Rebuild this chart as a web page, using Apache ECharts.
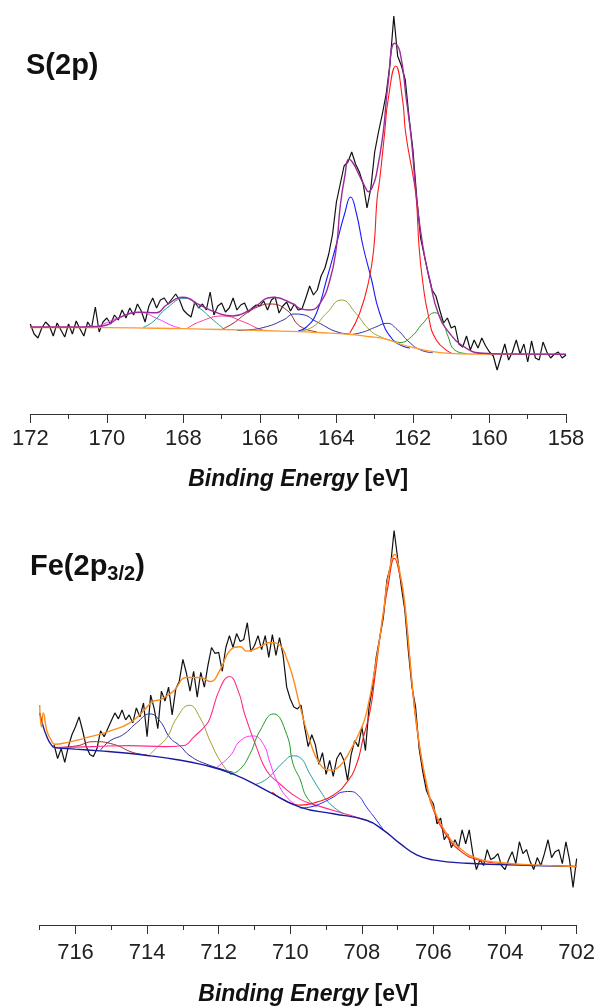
<!DOCTYPE html>
<html>
<head>
<meta charset="utf-8">
<script src="https://cdn.jsdelivr.net/npm/echarts@6.0.0/dist/echarts.min.js"></script>
<style>
  html, body { margin: 0; padding: 0; background: #fff; }
  #chart { width: 598px; height: 1007px; }
</style>
</head>
<body>
<div id="chart"></div>
<script>
// S(2p) region, [binding energy eV, intensity a.u.]
const sRaw = [
  [172.0,90],[171.9,80],[171.8,76],[171.7,86],[171.6,92],[171.5,88],[171.4,78],[171.3,91],[171.2,84],[171.1,77],
  [171.0,90],[170.9,80],[170.8,93],[170.7,85],[170.6,78],[170.5,92],[170.4,86],[170.3,107],[170.2,82],[170.1,92],
  [170.0,96],[169.9,90],[169.8,99],[169.7,94],[169.6,104],[169.5,96],[169.4,106],[169.3,99],[169.2,110],[169.1,103],
  [169.0,92],[168.9,108],[168.8,116],[168.7,106],[168.6,114],[168.5,116],[168.4,110],[168.3,115],[168.2,120],[168.1,114],
  [168.0,104],[167.9,100],[167.8,97],[167.7,112],[167.6,106],[167.5,110],[167.4,104],[167.3,122],[167.2,99],[167.1,108],
  [167.0,111],[166.9,102],[166.8,106],[166.7,116],[166.6,104],[166.5,109],[166.4,111],[166.3,102],[166.2,106],[166.1,109],
  [166.0,108],[165.9,113],[165.8,104],[165.7,114],[165.6,117],[165.5,101],[165.4,108],[165.3,112],[165.2,103],[165.1,110],
  [165.0,104],[164.9,105],[164.8,116],[164.7,128],[164.6,119],[164.5,124],[164.4,138],[164.3,146],[164.2,160],[164.1,180],
  [164.0,212],[163.9,230],[163.8,248],[163.7,252],[163.6,262],[163.5,250],[163.4,242],[163.3,230],[163.2,206],[163.1,226],
  [163.0,262],[162.9,282],[162.8,300],[162.7,320],[162.6,350],[162.5,398],[162.4,358],[162.3,348],[162.2,334],[162.1,296],
  [162.0,264],[161.9,216],[161.8,176],[161.7,158],[161.6,140],[161.5,124],[161.4,118],[161.3,104],[161.2,91],[161.1,96],
  [161.0,86],[160.9,88],[160.8,70],[160.7,67],[160.6,78],[160.5,64],[160.4,74],[160.3,66],[160.2,76],[160.1,68],
  [160.0,62],[159.9,58],[159.8,44],[159.7,57],[159.6,70],[159.5,54],[159.4,62],[159.3,74],[159.2,60],[159.1,70],
  [159.0,52],[158.9,73],[158.8,56],[158.7,54],[158.6,72],[158.5,62],[158.4,56],[158.3,60],[158.2,62],[158.1,56],[158.0,59]
];
const sEnvelope = [
  [172.0,87],[171.0,87],[170.3,87.5],[170.0,89],[169.66,96.7],[169.14,101.7],[168.7,101.3],[168.44,109],[168.0,116.7],
  [167.57,109],[167.13,101.3],[166.7,98],[166.26,104],[165.65,116.7],[165.13,110],[164.96,105.7],[164.7,104],[164.43,110.7],
  [164.17,134],[164.0,167],[163.9,208],[163.78,238],[163.67,254.7],[163.55,250],[163.43,240.7],[163.21,224],[163.17,222.3],
  [163.05,228],[162.95,240.7],[162.78,280.7],[162.65,330.7],[162.48,370.7],[162.34,362.3],[162.17,314],[162.04,274],
  [161.91,217.3],[161.74,167.3],[161.56,134],[161.34,100.7],[161.04,80.7],[160.6,65.7],[160.17,60.7],[159.5,60],[158.0,59.7]
];
const sBaseline = [
  [172.0,86.5],[170.0,86.3],[168.0,85.3],[167.0,84.5],[166.0,83.5],[164.96,82.3],[164.5,81.5],[163.65,79.7],[163.2,77.5],
  [162.78,75.7],[162.55,73],[162.34,70],[162.0,66.5],[161.47,62.3],[161.04,60.7],[160.44,60],[158.0,59.7]
];
const sRed = [
  [163.65,81],[163.39,101],[163.15,134],[163.02,167],[162.94,214],[162.87,234],[162.74,281],[162.65,314],[162.45,348],
  [162.27,314],[162.19,281],[161.98,234],[161.91,214],[161.84,167],[161.75,134],[161.61,101],[161.39,74],[161.0,61]
];
const sBlue = [
  [165.0,83],[164.78,87],[164.52,101],[164.26,134],[164.02,167],[163.78,201],[163.63,217],[163.48,201],[163.3,167],
  [163.08,134],[162.87,101],[162.52,74],[162.08,66]
];
const sGreen = [[162.5,73],[162.34,71.5],[162.04,77.3],[161.74,90.7],[161.43,101.3],[161.21,90.7],[161.08,77.3],[160.91,64],[160.6,60.5]];
const sNavy = [[163.6,79.5],[163.3,82],[163.0,86.5],[162.68,90.7],[162.4,84],[162.1,72],[161.8,64],[161.48,61.3]];
const sOlive = [[165.0,82.3],[164.61,87.3],[164.26,100.7],[163.87,114],[163.49,100.7],[163.13,84],[162.78,76],[162.52,73]];
const sNavy2 = [[166.6,83.6],[166.35,84],[165.83,87.3],[165.39,94],[165.1,100],[164.9,99.5],[164.52,92.3],[163.91,81.3],[163.65,80]];
const sDarkRed = [[167.0,84.5],[166.7,90.7],[166.35,100.7],[166.0,108],[165.74,110],[165.3,104],[164.96,88],[164.52,82.3]];
const sPink = [[167.9,85.5],[167.57,92.3],[166.97,98],[166.44,92.3],[166.0,84.7],[165.83,83.5]];
const sTeal = [[169.05,86.7],[168.79,92.3],[168.44,105.7],[167.96,115.7],[167.57,105.7],[167.22,94],[166.96,85.7]];
const sMagenta = [[170.3,87],[170.09,90],[169.66,96.7],[169.14,101.7],[168.7,95.7],[168.27,88],[168.09,86.3]];

// Fe(2p3/2) region
const feRaw = [
  [716.6,182],[716.5,168],[716.4,178],[716.3,164],[716.2,180],[716.1,192],[716.0,200],[715.9,210],[715.8,196],[715.7,180],
  [715.6,172],[715.5,170],[715.4,178],[715.3,196],[715.2,190],[715.1,198],[715.0,206],[714.9,214],[714.8,208],[714.7,217],
  [714.6,207],[714.5,212],[714.4,204],[714.3,219],[714.2,210],[714.1,224],[714.0,190],[713.9,232],[713.8,218],[713.7,198],
  [713.6,236],[713.5,226],[713.4,240],[713.3,212],[713.2,238],[713.1,246],[713.0,268],[712.9,254],[712.8,236],[712.7,256],
  [712.6,230],[712.5,255],[712.4,240],[712.3,262],[712.2,280],[712.1,274],[712.0,275],[711.9,256],[711.8,280],[711.7,292],
  [711.6,280],[711.5,294],[711.4,286],[711.3,288],[711.2,305],[711.1,276],[711.0,282],[710.9,292],[710.8,278],[710.7,292],
  [710.6,270],[710.5,293],[710.4,272],[710.3,290],[710.2,272],[710.1,240],[710.0,228],[709.9,220],[709.8,218],[709.7,222],
  [709.6,200],[709.5,180],[709.4,192],[709.3,182],[709.2,162],[709.1,174],[709.0,152],[708.9,166],[708.8,150],[708.7,168],
  [708.6,174],[708.5,166],[708.4,146],[708.3,172],[708.2,186],[708.1,180],[708.0,200],[707.9,176],[707.8,220],[707.7,240],
  [707.6,270],[707.5,290],[707.4,310],[707.3,348],[707.2,362],[707.1,398],[707.0,370],[706.9,342],[706.8,318],[706.7,276],
  [706.6,240],[706.5,220],[706.4,178],[706.3,155],[706.2,136],[706.1,128],[706.0,122],[705.9,102],[705.8,108],[705.7,86],
  [705.6,92],[705.5,78],[705.4,86],[705.3,78],[705.2,96],[705.1,82],[705.0,96],[704.9,72],[704.8,56],[704.7,66],
  [704.6,60],[704.5,76],[704.4,66],[704.3,68],[704.2,72],[704.1,60],[704.0,56],[703.9,66],[703.8,74],[703.7,62],
  [703.6,84],[703.5,72],[703.4,76],[703.3,64],[703.2,56],[703.1,68],[703.0,60],[702.9,72],[702.8,86],[702.7,68],
  [702.6,74],[702.5,76],[702.4,62],[702.3,84],[702.2,66],[702.1,38],[702.0,67]
];
const feEnvelope = [
  [717.0,222],[716.95,200],[716.9,214],[716.8,196],[716.7,188],[716.57,182.3],[716.25,184],[715.69,189],[715.04,195.7],
  [714.48,204],[714.11,215.7],[713.83,225.7],[713.64,227.3],[713.27,235.7],[712.89,249.7],[712.52,249.7],[712.24,245.7],
  [711.96,257.3],[711.68,277.3],[711.4,280.7],[711.22,276.3],[710.84,280.7],[710.57,285],[710.29,282.3],[710.1,269],
  [709.92,249],[709.73,221],[709.45,185.7],[709.17,162.3],[708.89,156.3],[708.61,160.7],[708.33,175.7],[708.05,195.7],
  [707.87,214],[707.59,269],[707.4,315.7],[707.26,352.3],[707.08,374],[706.94,355.7],[706.84,335.7],[706.75,305.7],
  [706.66,269],[706.52,216],[706.38,179],[706.19,142.3],[706.01,119],[705.63,92.3],[705.26,77.3],[704.79,67.3],
  [704.14,63],[703.21,60.7],[702.0,59]
];
const feBaseline = [
  [717.0,214],[716.9,200],[716.8,190],[716.7,183],[716.57,179],[716.0,177.5],[715.32,175.7],[714.6,173.5],[713.92,170.7],
  [713.2,167],[712.52,162.3],[711.59,152.3],[710.66,135.7],[709.73,119],[708.8,112.3],[707.87,105.7],[707.4,95.7],
  [706.94,82.3],[706.47,70.7],[706.01,65.7],[705.07,62.3],[703.21,60],[702.0,59]
];
const feRed = [
  [710.5,134],[709.73,121],[709.26,124],[708.8,131],[708.42,144],[708.15,162],[707.96,189],[707.77,216],[707.63,252],
  [707.45,302],[707.26,344],[707.09,370],[706.94,353],[706.84,333],[706.75,304],[706.66,268],[706.52,215],[706.38,178],
  [706.19,140],[706.01,117],[705.63,90],[705.26,75],[704.79,66],[704.14,62],[703.5,60.5]
];
const feBlue = [[709.73,118],[709.45,119],[709.17,122.3],[708.8,129],[708.56,134],[708.33,134.7],[708.1,130.7],[707.87,119],[707.59,105.7],[707.4,96]];
const feTeal = [[711.0,141.5],[710.66,147.3],[710.2,164],[709.92,170.7],[709.73,169],[709.45,152.3],[709.17,135.7],[708.89,122.3],[708.52,112.3]];
const feGreen = [[711.68,151.7],[711.4,157.3],[711.13,172.3],[710.85,195.7],[710.47,213],[710.1,192.3],[709.92,162.3],[709.73,147.3],[709.54,129],[709.26,119]];
const feMagenta = [[712.06,159],[711.68,170.7],[711.4,185.7],[711.03,190.7],[710.75,182.3],[710.57,164],[710.38,145.7],[710.1,129],[709.82,120.7]];
const fePink = [
  [716.6,179],[715.5,180],[714.5,181],[713.5,180],[713.0,181],[712.89,182.3],[712.71,189],[712.34,202.3],[712.24,209],
  [711.96,239],[711.7,250.7],[711.45,235.7],[711.27,212.3],[710.94,179],[710.66,155.7],[710.29,142.3],[709.73,127],
  [709.26,120.7],[708.33,110.7],[707.9,106]
];
const feOlive = [[713.92,172],[713.73,179],[713.45,189],[713.17,209],[712.82,221.7],[712.52,209],[712.24,185.7],[711.96,165.7],[711.68,152.3]];
const feNavy = [[715.3,176.5],[715.04,185.7],[714.66,192.3],[714.29,204],[713.92,213],[713.64,205.7],[713.36,189],[713.08,180.7],[712.8,170.7],[712.34,162.3],[711.59,154]];
const feDarkRed = [[716.57,179],[715.97,180.7],[715.5,185],[714.94,182.3],[714.39,174],[714.01,171.7]];

const sTicks = [158, 160, 162, 164, 166, 168, 170, 172];
const feTicks = [702, 704, 706, 708, 710, 712, 714, 716];

const FONT = '"Liberation Sans", Arial, sans-serif';

var chartDom = document.getElementById('chart');
var myChart = echarts.init(chartDom, null, { renderer: 'canvas' });

function line(data, color, xi, yi, width, smooth) {
  return {
    type: 'line',
    data: data,
    xAxisIndex: xi,
    yAxisIndex: yi,
    symbol: 'none',
    smooth: smooth,
    animation: false,
    silent: true,
    lineStyle: { color: color, width: width }
  };
}

const axisName = {
  name: '{i|Binding Energy}{b| [eV]}',
  nameLocation: 'middle',
  nameTextStyle: {
    rich: {
      i: { fontFamily: FONT, fontSize: 23, fontWeight: 'bold', fontStyle: 'italic', color: '#111' },
      b: { fontFamily: FONT, fontSize: 23, fontWeight: 'bold', color: '#111' }
    }
  }
};

var option = {
  backgroundColor: '#fff',
  animation: false,
  title: [
    {
      text: 'S(2p)', left: 26, top: 51, padding: 0,
      textStyle: { fontFamily: FONT, fontSize: 29, fontWeight: 'bold', color: '#111' }
    },
    {
      text: '{m|Fe(2p}{s|3/2}{m|)}', left: 30, top: 550, padding: 0,
      textStyle: {
        rich: {
          m: { fontFamily: FONT, fontSize: 29, fontWeight: 'bold', color: '#111', lineHeight: 34 },
          s: { fontFamily: FONT, fontSize: 20, fontWeight: 'bold', color: '#111', verticalAlign: 'bottom', lineHeight: 20 }
        }
      }
    }
  ],
  grid: [
    { left: 30.3, right: 32, top: 0, height: 414 },
    { left: 39.7, right: 21.3, top: 480, height: 449 }
  ],
  xAxis: [
    Object.assign({
      gridIndex: 0, type: 'value', min: 158, max: 172, interval: 2, inverse: true,
      nameGap: 54,
      axisLine: { lineStyle: { color: '#333', width: 1 } },
      axisTick: { length: 9, lineStyle: { color: '#333' } },
      minorTick: { show: true, splitNumber: 2, length: 5, lineStyle: { color: '#333' } },
      axisLabel: { margin: 14, fontFamily: FONT, fontSize: 22, color: '#222', customValues: sTicks },
      splitLine: { show: false }
    }, axisName),
    {
      gridIndex: 1, type: 'value', min: 702, max: 717, interval: 1, inverse: true,
      position: 'bottom',
      axisLine: { lineStyle: { color: '#333', width: 1 } },
      axisTick: { length: 5, lineStyle: { color: '#333' } },
      axisLabel: { show: false },
      splitLine: { show: false }
    },
    Object.assign({
      gridIndex: 1, type: 'value', min: 702, max: 717, inverse: true,
      position: 'bottom', offset: 0,
      nameGap: 58,
      axisLine: { show: false },
      axisTick: { length: 9, lineStyle: { color: '#333' }, customValues: feTicks },
      axisLabel: { margin: 17, fontFamily: FONT, fontSize: 22, color: '#222', customValues: feTicks },
      splitLine: { show: false }
    }, axisName)
  ],
  yAxis: [
    { gridIndex: 0, type: 'value', min: 0, max: 414, show: false, splitLine: { show: false } },
    { gridIndex: 1, type: 'value', min: 0, max: 449, show: false, splitLine: { show: false } }
  ],
  series: [
    line(sRaw, '#111', 0, 0, 1.2, false),
    line(sMagenta, '#ff33ff', 0, 0, 1, true),
    line(sTeal, '#229c9c', 0, 0, 1, true),
    line(sPink, '#ff3d8b', 0, 0, 1, true),
    line(sDarkRed, '#9a2a2a', 0, 0, 1, true),
    line(sNavy2, '#2b2ba6', 0, 0, 1, true),
    line(sOlive, '#a0a030', 0, 0, 1, true),
    line(sBlue, '#1a1aff', 0, 0, 1.1, true),
    line(sNavy, '#3333aa', 0, 0, 1, true),
    line(sGreen, '#229a22', 0, 0, 1, true),
    line(sRed, '#ff1a1a', 0, 0, 1.1, true),
    line(sBaseline, '#ff9a2e', 0, 0, 1.3, true),
    line(sEnvelope, '#9b2d9b', 0, 0, 1.4, true),

    line(feRaw, '#111', 1, 1, 1.2, false),
    line(feDarkRed, '#a02828', 1, 1, 1, true),
    line(feNavy, '#2d2d9a', 1, 1, 1, true),
    line(feOlive, '#a0a030', 1, 1, 1, true),
    line(fePink, '#ff2a8a', 1, 1, 1.1, true),
    line(feMagenta, '#ff33ff', 1, 1, 1, true),
    line(feGreen, '#229a22', 1, 1, 1, true),
    line(feTeal, '#229c9c', 1, 1, 1, true),
    line(feBlue, '#2a2aff', 1, 1, 1, true),
    line(feRed, '#ff1a1a', 1, 1, 1.1, true),
    line(feBaseline, '#1a1aa0', 1, 1, 1.4, true),
    line(feEnvelope, '#ff8c1a', 1, 1, 1.4, true)
  ]
};

option && myChart.setOption(option);
</script>
</body>
</html>
